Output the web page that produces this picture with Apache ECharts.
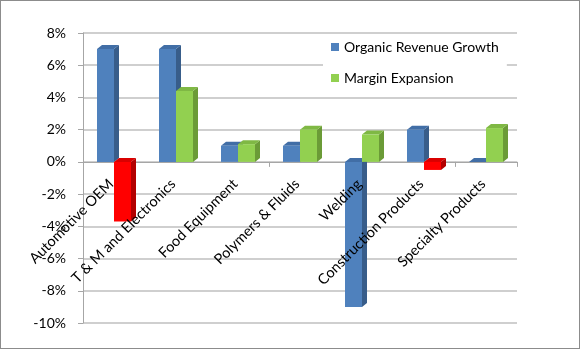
<!DOCTYPE html>
<html><head><meta charset="utf-8">
<script src="https://cdn.jsdelivr.net/npm/echarts@6/dist/echarts.min.js"></script>
<style>html,body{margin:0;padding:0;background:#fff}#c{width:580px;height:349px;box-sizing:border-box;border:1px solid #8c8c8c}</style>
</head><body><div id="c"></div>
<script>
const categories = ['Automotive OEM','T & M and Electronics','Food Equipment','Polymers & Fluids','Welding','Construction Products','Specialty Products'];
const organicRevenueGrowth = [7, 7, 1, 1, -9, 2, 0];
const marginExpansion = [-3.7, 4.4, 1.1, 2.0, 1.7, -0.5, 2.1];
const yTicks = {min: -10, max: 8, interval: 2};

const chart = echarts.init(document.getElementById('c'));
const FONT = 'Lato';
const TOP = 32, BOTTOM = 25, H = 349 - TOP - BOTTOM;
const zeroY = TOP + H * yTicks.max / (yTicks.max - yTicks.min);
const BW = 17, DX = 5, DY = -4;

const palette = {
  blue: {front: '#4f81bd', side: '#385d8a', top: '#416ea6'},
  green: {front: '#92d050', side: '#6b9b37', top: '#7fb844'},
  red: {front: '#ff0000', side: '#b30000', top: '#d90000'}
};

function makeRender(slot, colorFor) {
  return function (params, api) {
    const ci = api.value(0), v = api.value(1);
    const c = colorFor(v);
    const pz = api.coord([ci, 0]);
    const pv = api.coord([ci, v]);
    const x0 = pz[0] + (slot === 0 ? -BW : 0);
    const yTop = Math.min(pz[1], pv[1]);
    const yBot = Math.max(pz[1], pv[1]);
    return {
      type: 'group',
      children: [
        {type: 'polygon', shape: {points: [[x0 + BW, yTop], [x0 + BW + DX, yTop + DY], [x0 + BW + DX, yBot + DY], [x0 + BW, yBot]]}, style: {fill: c.side}},
        {type: 'polygon', shape: {points: [[x0, yTop], [x0 + DX, yTop + DY], [x0 + BW + DX, yTop + DY], [x0 + BW, yTop]]}, style: {fill: c.top}},
        {type: 'rect', shape: {x: x0, y: yTop, width: BW, height: yBot - yTop}, style: {fill: c.front}}
      ]
    };
  };
}

chart.setOption({
  animation: false,
  textStyle: {fontFamily: FONT},
  grid: [
    {left: 82, right: 62, top: TOP, bottom: BOTTOM, outerBoundsMode: 'none', containLabel: false},
    {left: 82, right: 62, top: TOP, height: zeroY - TOP, outerBoundsMode: 'none', containLabel: false}
  ],
  legend: {
    orient: 'vertical', left: 322, top: 33,
    itemWidth: 8, itemHeight: 8, itemGap: 17,
    backgroundColor: '#fff', padding: [6, 8, 6, 8],
    textStyle: {fontFamily: FONT, fontSize: 14, color: '#000'},
    data: [{name: 'Organic Revenue Growth', icon: 'rect'}, {name: 'Margin Expansion', icon: 'rect'}]
  },
  xAxis: [{
    type: 'category', data: categories, gridIndex: 0,
    axisLine: {onZero: true, lineStyle: {color: '#a6a6a6'}},
    axisTick: {show: true, length: 5, lineStyle: {color: '#a6a6a6'}},
    axisLabel: {show: false}
  }, {
    type: 'category', data: categories, gridIndex: 1, z: 5,
    axisLine: {show: false}, axisTick: {show: false},
    axisLabel: {rotate: 45, interval: 0, margin: 16, color: '#000', fontSize: 14.5, fontFamily: FONT, padding: [0, 4, 0, 0]}
  }],
  yAxis: [{
    type: 'value', min: yTicks.min, max: yTicks.max, interval: yTicks.interval, gridIndex: 0,
    axisLine: {show: true, lineStyle: {color: '#a6a6a6'}},
    axisTick: {show: true, length: 5, lineStyle: {color: '#a6a6a6'}},
    axisLabel: {formatter: '{value}%', color: '#000', fontSize: 14, fontFamily: FONT, margin: 17},
    splitLine: {lineStyle: {color: '#bfbfbf', width: 1.5}}
  }, {
    type: 'value', gridIndex: 1, show: false
  }],
  series: [
    {name: 'Organic Revenue Growth', type: 'custom', xAxisIndex: 0, yAxisIndex: 0, z: 3,
     itemStyle: {color: palette.blue.front},
     encode: {x: 0, y: 1},
     renderItem: makeRender(0, () => palette.blue),
     data: organicRevenueGrowth.map((v, i) => [i, v])},
    {name: 'Margin Expansion', type: 'custom', xAxisIndex: 0, yAxisIndex: 0, z: 3,
     itemStyle: {color: palette.green.front},
     encode: {x: 0, y: 1},
     renderItem: makeRender(1, v => v < 0 ? palette.red : palette.green),
     data: marginExpansion.map((v, i) => [i, v])}
  ]
});
</script></body></html>
